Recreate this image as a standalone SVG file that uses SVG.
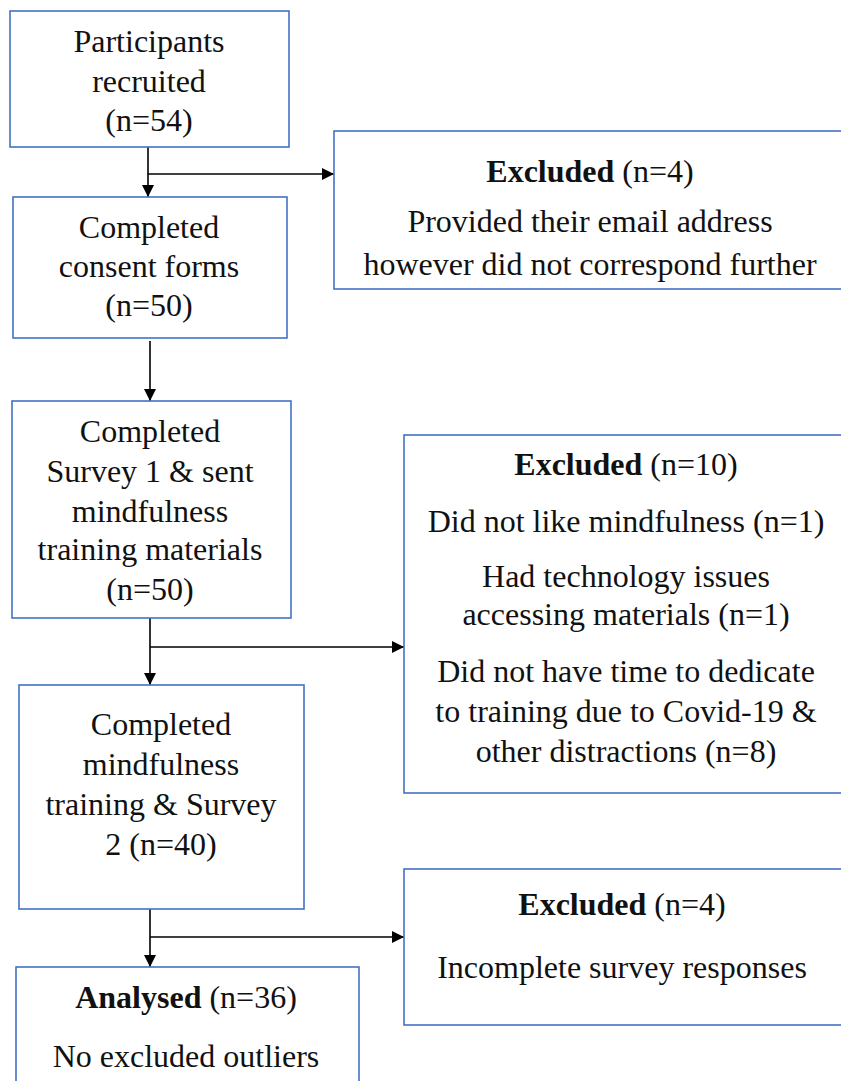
<svg xmlns="http://www.w3.org/2000/svg" width="841" height="1081" viewBox="0 0 841 1081">
<defs>
<style>
.box{fill:#fff;stroke:#4472C4;stroke-width:1.6}
.t{font-family:"Liberation Serif","Times New Roman",serif;font-size:32px;fill:#111;text-anchor:middle}
.b{font-weight:bold}
.c{stroke:#000;stroke-width:1.6;fill:none}
</style>
<marker id="ah" viewBox="0 0 12 12" refX="12" refY="6" markerWidth="12" markerHeight="12" markerUnits="userSpaceOnUse" orient="auto">
<path d="M0,0 L12,6 L0,12 Z" fill="#000"/>
</marker>
</defs>
<rect width="841" height="1081" fill="#fff"/>
<g id="connectors">
<path class="c" d="M148,147 V197" marker-end="url(#ah)"/>
<path class="c" d="M148,174 H334" marker-end="url(#ah)"/>
<path class="c" d="M150,341 V401" marker-end="url(#ah)"/>
<path class="c" d="M150,618 V685" marker-end="url(#ah)"/>
<path class="c" d="M150,647 H404" marker-end="url(#ah)"/>
<path class="c" d="M150,909 V967" marker-end="url(#ah)"/>
<path class="c" d="M150,937 H404" marker-end="url(#ah)"/>
</g>
<g id="n1">
<rect class="box" x="10" y="11" width="279" height="136"/>
<text class="t" x="149" y="52">Participants</text>
<text class="t" x="149" y="92">recruited</text>
<text class="t" x="149" y="131">(n=54)</text>
</g>
<g id="n2">
<rect class="box" x="13" y="197" width="274" height="141"/>
<text class="t" x="149" y="238">Completed</text>
<text class="t" x="149" y="277">consent forms</text>
<text class="t" x="149" y="316">(n=50)</text>
</g>
<g id="x1">
<rect class="box" x="334" y="131" width="520" height="158"/>
<text class="t" x="590" y="182"><tspan class="b">Excluded</tspan> (n=4)</text>
<text class="t" x="590" y="232">Provided their email address</text>
<text class="t" x="590" y="275">however did not correspond further</text>
</g>
<g id="n3">
<rect class="box" x="12" y="401" width="279" height="217"/>
<text class="t" x="150" y="442">Completed</text>
<text class="t" x="150" y="482">Survey 1 &amp; sent</text>
<text class="t" x="150" y="522">mindfulness</text>
<text class="t" x="150" y="560">training materials</text>
<text class="t" x="150" y="600">(n=50)</text>
</g>
<g id="x2">
<rect class="box" x="404" y="435" width="450" height="358"/>
<text class="t" x="626" y="475"><tspan class="b">Excluded</tspan> (n=10)</text>
<text class="t" x="626" y="532">Did not like mindfulness (n=1)</text>
<text class="t" x="626" y="587">Had technology issues</text>
<text class="t" x="626" y="625">accessing materials (n=1)</text>
<text class="t" x="626" y="682">Did not have time to dedicate</text>
<text class="t" x="626" y="722">to training due to Covid-19 &amp;</text>
<text class="t" x="626" y="762">other distractions (n=8)</text>
</g>
<g id="n4">
<rect class="box" x="19" y="685" width="285" height="224"/>
<text class="t" x="161" y="735">Completed</text>
<text class="t" x="161" y="775">mindfulness</text>
<text class="t" x="161" y="815">training &amp; Survey</text>
<text class="t" x="161" y="855">2 (n=40)</text>
</g>
<g id="x3">
<rect class="box" x="404" y="869" width="450" height="156"/>
<text class="t" x="622" y="915"><tspan class="b">Excluded</tspan> (n=4)</text>
<text class="t" x="622" y="978">Incomplete survey responses</text>
</g>
<g id="n5">
<rect class="box" x="16" y="967" width="343" height="130"/>
<text class="t" x="186" y="1008"><tspan class="b">Analysed</tspan> (n=36)</text>
<text class="t" x="186" y="1067">No excluded outliers</text>
</g>
</svg>
